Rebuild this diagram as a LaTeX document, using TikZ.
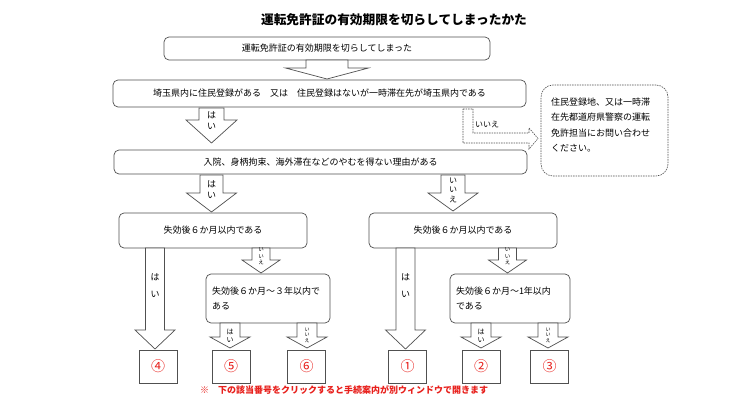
\documentclass[tikz,border=0pt]{standalone}
\usepackage{fontspec}
\setmainfont{Noto Sans CJK JP}
\definecolor{ln}{HTML}{505050}
\definecolor{rd}{HTML}{E8201C}
\tikzset{
  box/.style={draw=ln, line width=0.7pt, rounded corners=5pt, inner sep=0pt, font=\fontsize{9}{11}\selectfont},
  numbox/.style={draw=ln, line width=0.7pt, inner sep=0pt, minimum width=38pt, minimum height=33pt, text=rd, font=\fontsize{14}{14}\selectfont},
  arr/.style={draw=ln, line width=0.7pt, fill=white, line join=miter},
  lbl/.style={inner sep=0pt, align=center},
}
\newcommand\barrow[6]{%
  \draw[arr] (#1-#5,#2) -- (#1+#5,#2) -- (#1+#5,#3) -- (#1+#6,#3) -- (#1,#4) -- (#1-#6,#3) -- (#1-#5,#3) -- cycle;}
\begin{document}
\begin{tikzpicture}[x=1pt,y=-1pt]
\useasboundingbox[fill=white] (0,0) rectangle (740,417);

% title
\node[inner sep=0pt, font=\fontsize{12.7}{14}\selectfont\bfseries] (title) at (394,20) {運転免許証の有効期限を切らしてしまったかた};

% boxes
\node[box, minimum width=326pt, minimum height=23pt] (b1) at (327,48.5) {運転免許証の有効期限を切らしてしまった};
\node[box, minimum width=413pt, minimum height=27pt] (b2) at (319.5,93.5) {埼玉県内に住民登録がある　又は　住民登録はないが一時滞在先が埼玉県内である};
\node[box, minimum width=413pt, minimum height=24pt] (b3) at (320.5,162) {入院、身柄拘束、海外滞在などのやむを得ない理由がある};
\node[box, minimum width=188pt, minimum height=35pt] (b4l) at (213,230.5) {失効後６か月以内である};
\node[box, minimum width=188pt, minimum height=35pt] (b4r) at (463,230.5) {失効後６か月以内である};
\node[box, minimum height=49pt, text width=112pt, inner xsep=6pt, align=left, font=\fontsize{9}{15}\selectfont] (b5l) at (268,298.5) {失効後６か月～３年以内で\\ある};
\node[box, minimum height=49pt, text width=108pt, inner xsep=6pt, align=left, font=\fontsize{9}{15}\selectfont] (b5r) at (510,298.5) {失効後６か月～1年以内\\である};

% right dashed note
\node[draw=ln, line width=0.6pt, dash pattern=on 1.5pt off 1pt, rounded corners=12pt, minimum width=127pt, minimum height=91pt, inner sep=0pt] (note) at (604.5,130.5) {};
\node[anchor=west, inner sep=0pt, align=left, font=\fontsize{9}{15.5}\selectfont] (notetext) at (551,125) {住民登録地、又は一時滞\\在先都道府県警察の運転\\免許担当にお問い合わせ\\ください。};

% dashed bent arrow
\draw[draw=ln, line width=0.6pt, dash pattern=on 1.5pt off 1pt] (463,109) -- (473,109) -- (473,133) -- (529,133) -- (529,128) -- (538,138.5) -- (529,149) -- (529,143) -- (463,143) -- cycle;
\node[lbl, font=\fontsize{8}{8}\selectfont] (nolbl0) at (487,125) {いいえ};

% block arrows
\barrow{327}{60}{68}{79}{21}{41.5}
\barrow{211.5}{108}{120}{143}{12.5}{25.5}
\node[lbl, font=\fontsize{9}{11}\selectfont] (y1) at (211.5,120.5) {は\\い};
\barrow{211.5}{175}{193}{212}{11.5}{25}
\node[lbl, font=\fontsize{9}{11}\selectfont] (y2) at (211.5,189.5) {は\\い};
\barrow{453}{175}{193}{211}{12}{25}
\node[lbl, font=\fontsize{8}{9.5}\selectfont] (n2) at (453,190) {い\\い\\え};

\barrow{155}{248}{330}{349}{9.5}{20}
\node[lbl, font=\fontsize{9}{17}\selectfont] (y3) at (155,285.5) {は\\い};
\barrow{405.5}{248}{330}{349}{9.5}{20}
\node[lbl, font=\fontsize{9}{17}\selectfont] (y4) at (405.5,285.5) {は\\い};

\barrow{261}{248}{260}{273}{9}{19}
\node[lbl, font=\fontsize{5.5}{6.5}\selectfont] (n3) at (261,256.5) {い\\い\\え};
\barrow{507.5}{248}{260}{273}{9}{19}
\node[lbl, font=\fontsize{5.5}{6.5}\selectfont] (n4) at (507.5,256.5) {い\\い\\え};

\barrow{230}{323}{337}{348}{10}{20}
\node[lbl, font=\fontsize{7}{8}\selectfont] (y5) at (230,336) {は\\い};
\barrow{307}{323}{337}{348}{10}{20}
\node[lbl, font=\fontsize{5}{5.5}\selectfont] (n5) at (307,335) {い\\い\\え};
\barrow{481}{323}{337}{348}{10}{20}
\node[lbl, font=\fontsize{7}{8}\selectfont] (y6) at (481,336) {は\\い};
\barrow{548}{323}{337}{348}{10}{20}
\node[lbl, font=\fontsize{5}{5.5}\selectfont] (n6) at (548,335) {い\\い\\え};

% number boxes
\node[numbox] (r4) at (158,366.5) {④};
\node[numbox] (r5) at (231,366.5) {⑤};
\node[numbox] (r6) at (306.5,366.5) {⑥};
\node[numbox] (r1) at (407.5,366.5) {①};
\node[numbox] (r2) at (481,366.5) {②};
\node[numbox] (r3) at (549.5,366.5) {③};

% footnote
\node[anchor=west, inner sep=0pt, text=rd, font=\fontsize{9}{11}\selectfont\bfseries] (foot) at (200,390) {※　下の該当番号をクリックすると手続案内が別ウィンドウで開きます};
\end{tikzpicture}
\end{document}
